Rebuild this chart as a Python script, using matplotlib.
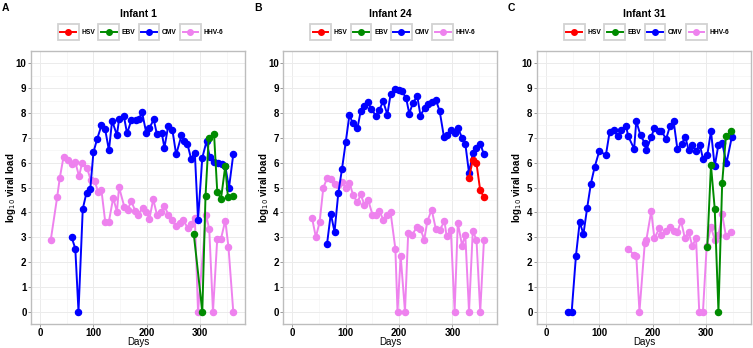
"""
Viral load over time for three infants (HSV, EBV, CMV, HHV-6).
"""

import matplotlib
matplotlib.use('Agg')
import matplotlib.pyplot as plt
from matplotlib.legend_handler import HandlerBase
from matplotlib.lines import Line2D
from matplotlib.patches import Rectangle

plt.rcParams['font.family'] = ['Liberation Sans', 'DejaVu Sans']

# Data
# ----------------------------------------------------------------------------

viruses = ['HSV', 'EBV', 'CMV', 'HHV-6']
colors = {'HSV': '#ff0000', 'EBV': '#008b00', 'CMV': '#0000ff', 'HHV-6': '#ee82ee'}
titles = ['Infant 1', 'Infant 24', 'Infant 31']
letters = ['A', 'B', 'C']
xticks = [0, 100, 200, 300]
yticks = list(range(0, 11))

# Infant 1
inf1_cmv_days = [59, 66, 72, 80, 87, 94, 100, 107, 115, 122, 129, 135, 144, 148, 157,
                 163, 171, 179, 185, 191, 199, 205, 213, 219, 228, 233, 240, 248, 255,
                 265, 270, 276, 283, 290, 296, 304, 312, 318, 326, 334, 340, 347, 354, 362]
inf1_cmv_vals = [3.0, 2.54, 0, 4.14, 4.79, 4.92, 6.42, 6.96, 7.5, 7.34, 6.5, 7.69, 7.11,
                 7.74, 7.88, 7.18, 7.71, 7.71, 7.74, 8.04, 7.2, 7.4, 7.74, 7.14, 7.2, 6.6,
                 7.47, 7.31, 6.33, 7.1, 6.87, 6.76, 6.16, 6.4, 3.7, 6.2, 6.87, 6.22, 6.02,
                 6.0, 5.93, 5.86, 4.99, 6.33]
inf1_ebv_days = [288, 304, 310, 316, 326, 332, 339, 347, 352, 361]
inf1_ebv_vals = [3.13, 0, 4.65, 7.0, 7.15, 4.83, 4.54, 5.86, 4.61, 4.65]
inf1_hhv6_days = [20, 32, 37, 44, 52, 59, 66, 73, 79, 88, 95, 102, 109, 115, 122, 129,
                  137, 144, 148, 158, 164, 171, 178, 184, 192, 199, 205, 212, 219, 227,
                  233, 240, 247, 255, 263, 268, 277, 283, 290, 296, 311, 317, 324, 332,
                  339, 347, 353, 362]
inf1_hhv6_vals = [2.88, 4.61, 5.39, 6.24, 6.1, 5.93, 6.02, 5.46, 6.0, 5.79, 5.29, 5.28,
                  4.81, 4.89, 3.63, 3.63, 4.58, 4.03, 5.01, 4.21, 4.11, 4.45, 4.07, 3.91,
                  4.18, 4.02, 3.75, 4.52, 3.91, 4.0, 4.27, 3.91, 3.71, 3.44, 3.58, 3.68,
                  3.37, 3.51, 3.78, 0, 3.91, 3.31, 0, 2.93, 2.93, 3.67, 2.61, 0]

# Infant 24
inf24_cmv_days = [65, 72, 79, 86, 93, 100, 107, 113, 122, 128, 134, 141, 148, 156, 163,
                  170, 178, 184, 193, 200, 205, 213, 219, 226, 234, 240, 248, 255, 261,
                  269, 276, 284, 289, 297, 304, 310, 318, 324, 331, 338, 344, 352, 359]
inf24_cmv_vals = [2.73, 3.95, 3.21, 4.76, 5.75, 6.83, 7.94, 7.58, 7.39, 8.08, 8.3, 8.44,
                  8.17, 7.9, 8.12, 8.48, 7.94, 8.75, 8.95, 8.92, 8.88, 8.62, 7.98, 8.41,
                  8.68, 7.9, 8.21, 8.35, 8.44, 8.52, 8.08, 7.04, 7.1, 7.31, 7.18, 7.41,
                  7.0, 6.77, 5.59, 6.37, 6.6, 6.77, 6.33]
inf24_hsv_days = [331, 338, 345, 352, 359]
inf24_hsv_vals = [5.39, 6.1, 5.97, 4.88, 4.62]
inf24_hhv6_days = [37, 44, 51, 58, 65, 72, 80, 86, 93, 100, 107, 114, 122, 128, 135, 142,
                   150, 156, 163, 170, 178, 184, 193, 197, 203, 211, 217, 225, 233, 240,
                   247, 253, 261, 269, 276, 285, 289, 297, 304, 310, 318, 324, 331, 338,
                   345, 352, 359]
inf24_hhv6_vals = [3.76, 3.0, 3.6, 4.99, 5.37, 5.35, 5.16, 5.12, 5.23, 4.99, 5.19, 4.68,
                   4.4, 4.72, 4.31, 4.5, 3.91, 3.91, 4.07, 3.71, 3.91, 4.0, 2.53, 0, 2.23,
                   0, 3.15, 3.1, 3.41, 3.33, 2.9, 3.64, 4.11, 3.31, 3.28, 3.64, 3.04, 3.28,
                   0, 3.58, 2.66, 3.1, 0, 3.24, 2.9, 0, 2.88]

# Infant 31
inf31_cmv_days = [41, 48, 56, 63, 70, 77, 84, 91, 100, 112, 119, 127, 134, 141, 150, 154,
                  165, 169, 177, 185, 188, 197, 203, 212, 216, 225, 232, 239, 246, 254,
                  261, 267, 274, 281, 288, 294, 302, 309, 316, 323, 330, 338, 348]
inf31_cmv_vals = [0, 0, 2.25, 3.61, 3.12, 4.18, 5.16, 5.82, 6.49, 6.29, 7.23, 7.3, 7.08,
                  7.3, 7.46, 7.06, 6.56, 7.67, 7.1, 6.79, 6.52, 7.03, 7.4, 7.27, 7.27,
                  6.96, 7.46, 7.67, 6.56, 6.76, 7.03, 6.52, 6.73, 6.47, 6.73, 6.16, 6.29,
                  7.27, 5.85, 6.73, 6.79, 5.98, 7.03]
inf31_ebv_days = [302, 309, 316, 323, 330, 337, 347]
inf31_ebv_vals = [2.59, 5.89, 4.15, 0, 5.18, 7.06, 7.27]
inf31_hhv6_days = [154, 165, 169, 175, 185, 188, 197, 203, 212, 216, 225, 232, 239, 246,
                   253, 260, 267, 274, 281, 287, 294, 301, 309, 316, 323, 330, 337, 347]
inf31_hhv6_vals = [2.52, 2.28, 2.25, 0, 2.77, 2.9, 4.04, 2.95, 3.35, 3.08, 3.25, 3.39,
                   3.24, 3.21, 3.64, 2.97, 3.21, 2.65, 2.95, 0, 0, 2.65, 3.41, 2.9, 3.08,
                   3.92, 3.04, 3.21]

panels = [
    {'CMV': (inf1_cmv_days, inf1_cmv_vals),
     'EBV': (inf1_ebv_days, inf1_ebv_vals),
     'HHV-6': (inf1_hhv6_days, inf1_hhv6_vals)},
    {'CMV': (inf24_cmv_days, inf24_cmv_vals),
     'HSV': (inf24_hsv_days, inf24_hsv_vals),
     'HHV-6': (inf24_hhv6_days, inf24_hhv6_vals)},
    {'CMV': (inf31_cmv_days, inf31_cmv_vals),
     'EBV': (inf31_ebv_days, inf31_ebv_vals),
     'HHV-6': (inf31_hhv6_days, inf31_hhv6_vals)},
]

# Legend key with a grey box round it (ggplot style)
# ----------------------------------------------------------------------------

class KeyHandler(HandlerBase):
    def create_artists(self, legend, orig_handle, xdescent, ydescent, width, height,
                       fontsize, trans):
        x0, y0 = -xdescent, -ydescent
        ym = y0 + height / 2
        c = orig_handle.get_color()
        box = Rectangle((x0, y0), width, height, facecolor='white', edgecolor='#d2d2d2',
                        lw=1.3, transform=trans)
        ln = Line2D([x0 + 0.12 * width, x0 + 0.88 * width], [ym, ym], color=c, lw=1.4,
                    transform=trans)
        mk = Line2D([x0 + width / 2], [ym], marker='o', ms=4, color=c, lw=0,
                    transform=trans)
        return [box, ln, mk]

# Plot
# ----------------------------------------------------------------------------

fig = plt.figure(figsize=(7.53, 3.48), dpi=100)
W, H = 753, 348
lefts = [31, 283.3, 537]
zorders = {'HHV-6': 2, 'CMV': 3, 'EBV': 4, 'HSV': 5}

for i, data in enumerate(panels):
    ax = fig.add_axes([lefts[i] / W, 24 / H, 214 / W, 273 / H])
    for v in ['HHV-6', 'CMV', 'EBV', 'HSV']:
        if v in data:
            d, y = data[v]
            ax.plot(d, y, '-o', color=colors[v], lw=1.4, ms=4.4, zorder=zorders[v],
                    clip_on=False)

    ax.set_xlim(-17, 384)
    ax.set_ylim(-0.5, 10.5)
    ax.set_xticks(xticks)
    ax.set_yticks(yticks)
    ax.set_xticks([50, 150, 250, 350], minor=True)
    ax.set_yticks([k + 0.5 for k in range(10)], minor=True)
    ax.grid(which='major', color='#ebebeb', lw=0.7)
    ax.grid(which='minor', color='#f4f4f4', lw=0.5)
    ax.set_axisbelow(True)
    for s in ax.spines.values():
        s.set_color('#bdbdbd')
        s.set_linewidth(1.0)
    ax.tick_params(which='major', length=2.2, width=0.7, color='#999999', pad=1,
                   labelsize=7, labelcolor='black')
    ax.tick_params(which='minor', length=0)
    for lab in ax.get_xticklabels() + ax.get_yticklabels():
        lab.set_fontweight('bold')

    ax.set_xlabel('Days', fontsize=7, va='center')
    ax.xaxis.set_label_coords(0.5, -(342 - 324) / 273)
    ax.set_ylabel(r'log$_{10}$ viral load', fontsize=7, fontweight='bold', va='center')
    ax.yaxis.set_label_coords(-19.5 / 214, 0.5)
    ax.text(0.5, 1 + 37 / 273, titles[i], transform=ax.transAxes, ha='center',
            va='center', fontsize=7.5, fontweight='bold')
    fig.text(lefts[i] / W - 29 / W, 1 - 8 / H, letters[i], ha='left', va='center',
             fontsize=7.5, fontweight='bold')

    handles = [Line2D([], [], color=colors[v]) for v in viruses]
    ax.legend(handles, viruses, handler_map={Line2D: KeyHandler()}, loc='center',
              bbox_to_anchor=(0.512, 1 + 19 / 273), ncol=4, frameon=False,
              prop={'size': 4.8, 'weight': 'bold'}, handlelength=3.1, handleheight=3.1,
              handletextpad=0.4, columnspacing=0.5, borderpad=0)

fig.savefig('out.png', dpi=100)
